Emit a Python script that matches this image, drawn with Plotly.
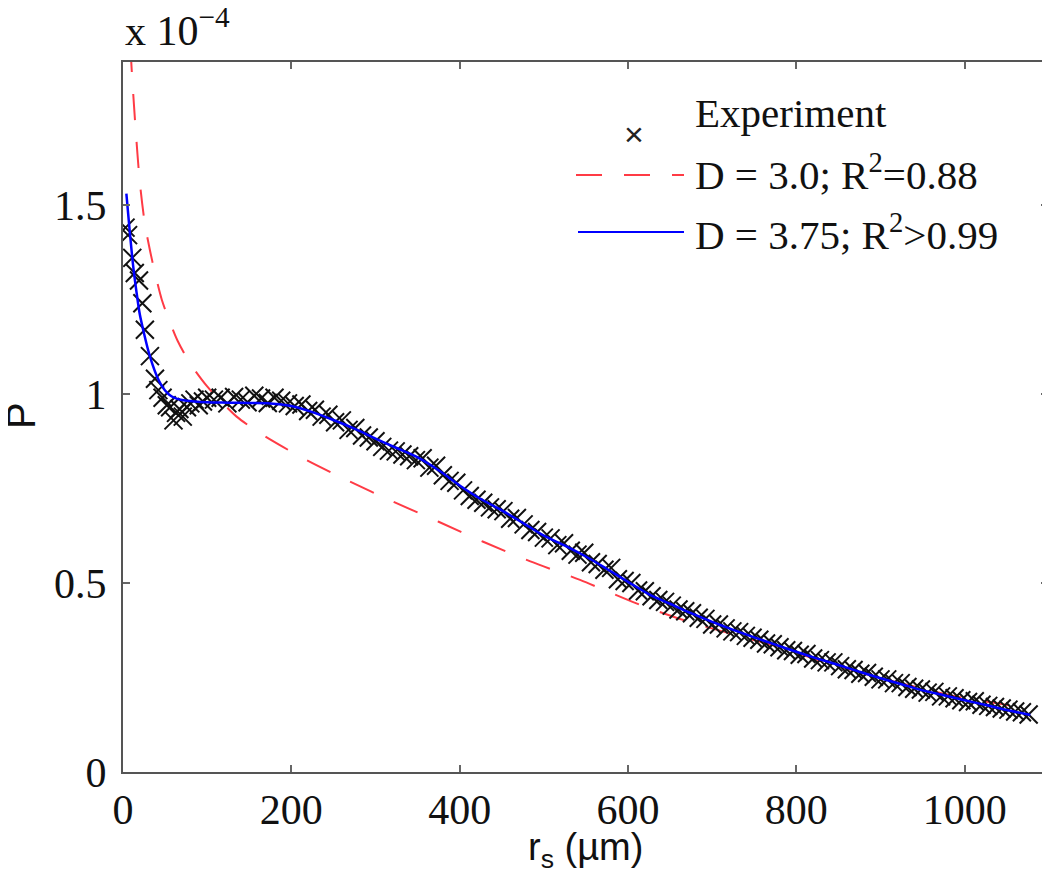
import plotly.graph_objects as go

# ---- data (P in units of 1e-4) ----
exp_x = [3, 6, 11, 14, 19, 23, 26, 32, 38, 42, 47, 52, 56, 60, 63, 67, 71, 76, 80, 85, 90, 95, 100,
         108, 116, 124, 132, 140, 148, 156, 164, 172, 180, 188, 196, 204, 212, 220, 228, 236, 244,
         252, 260, 268, 276, 284, 292, 300, 308, 316, 324, 332, 340, 348, 356, 364, 372, 380, 388,
         396, 404, 412, 420, 428, 436, 444, 452, 460, 468, 476, 484, 492, 500, 508, 516, 524, 532,
         540, 548, 556, 564, 572, 580, 588, 596, 604, 612, 620, 628, 636, 644, 652, 660, 668, 676,
         684, 692, 700, 708, 716, 724, 732, 740, 748, 756, 764, 772, 780, 788, 796, 804, 812, 820,
         828, 836, 844, 852, 860, 868, 876, 884, 892, 900, 908, 916, 924, 932, 940, 948, 956, 964,
         972, 980, 988, 996, 1004, 1012, 1020, 1028, 1036, 1044, 1052, 1060, 1068, 1076]
exp_y = [1.44, 1.42, 1.36, 1.32, 1.30, 1.24, 1.17, 1.10, 1.04, 1.01, 0.99, 0.97, 0.965, 0.93, 0.95,
         0.96, 0.94, 0.965, 0.975, 0.985, 0.97, 0.98, 0.99,
         0.985, 0.99, 0.975, 0.992, 0.985, 0.978, 0.995, 0.988, 0.976, 0.99, 0.982, 0.975, 0.968,
         0.972, 0.955, 0.958, 0.94, 0.945, 0.925, 0.93, 0.905, 0.91, 0.89, 0.885, 0.875, 0.86,
         0.85, 0.848, 0.84, 0.835, 0.825, 0.83, 0.805, 0.81, 0.785, 0.77, 0.765, 0.745, 0.73,
         0.72, 0.712, 0.70, 0.695, 0.69, 0.67, 0.672, 0.655, 0.64, 0.635, 0.62, 0.618, 0.60,
         0.605, 0.585, 0.575, 0.58, 0.555, 0.55, 0.535, 0.54, 0.51, 0.505, 0.50, 0.48, 0.478,
         0.465, 0.455, 0.45, 0.44, 0.43, 0.425, 0.42, 0.408, 0.405, 0.39, 0.39, 0.38, 0.372,
         0.37, 0.36, 0.355, 0.35, 0.34, 0.338, 0.33, 0.322, 0.32, 0.31, 0.312, 0.30, 0.296,
         0.29, 0.29, 0.28, 0.272, 0.27, 0.26, 0.262, 0.252, 0.245, 0.245, 0.235, 0.235, 0.225,
         0.22, 0.218, 0.21, 0.212, 0.20, 0.20, 0.195, 0.19, 0.185, 0.187, 0.178, 0.175, 0.172,
         0.168, 0.165, 0.16, 0.158, 0.152]

fit375_x = [4, 8, 12, 16, 20, 25, 30, 35, 40, 45, 50, 55, 60, 70, 85, 100, 125, 150, 175, 200, 225, 250,
            275, 300, 325, 350, 375, 400, 425, 450, 475, 500, 525, 550, 575, 600, 625, 650, 675,
            700, 725, 750, 775, 800, 825, 850, 875, 900, 925, 950, 975, 1000, 1025, 1050, 1078]
fit375_y = [1.53, 1.43, 1.34, 1.27, 1.21, 1.16, 1.115, 1.078, 1.048, 1.025, 1.009, 0.998, 0.991, 0.984, 0.98, 0.978,
            0.977, 0.976, 0.975, 0.968, 0.952, 0.931, 0.908, 0.882, 0.857, 0.832, 0.798, 0.758,
            0.722, 0.692, 0.659, 0.625, 0.599, 0.57, 0.537, 0.503, 0.47, 0.445, 0.42, 0.397,
            0.376, 0.356, 0.337, 0.318, 0.30, 0.283, 0.265, 0.248, 0.232, 0.216, 0.203, 0.19,
            0.177, 0.164, 0.151]

fit30_x = [9, 10, 15, 20, 26, 32, 38, 46, 54, 65, 80, 100, 115, 135, 163, 190, 218, 266, 321, 375,
           428, 484, 543, 610, 666, 725, 780, 830, 888, 940, 990, 1040, 1078]
fit30_y = [1.92, 1.87, 1.70, 1.56, 1.45, 1.38, 1.32, 1.25, 1.20, 1.14, 1.08, 1.02, 0.984, 0.94,
           0.896, 0.86, 0.825, 0.772, 0.715, 0.662, 0.609, 0.557, 0.508, 0.446, 0.402, 0.364,
           0.33, 0.293, 0.256, 0.226, 0.20, 0.181, 0.168]

legend_labels = ["Experiment", "D = 3.0; R<sup>2</sup>=0.88", "D = 3.75; R<sup>2</sup>>0.99"]

x_ticks = [0, 200, 400, 600, 800, 1000]
y_ticks = [0, 0.5, 1, 1.5]
y_ticktext = ["0", "0.5", "1", "1.5"]

SERIF = "Liberation Serif"
SANS = "Liberation Sans"
RED = "#ff3b45"
BLUE = "#0000ff"

# page body has an 8px default margin; the figure is sized so that it fits the window
OFF = 8
W, H = 1050 - OFF, 882 - OFF
PL, PT, PR, PB = 123 - OFF, 62 - OFF, 1048 - OFF, 772 - OFF   # plot-area box in figure pixels

fig = go.Figure()
fig.add_trace(go.Scatter(x=fit30_x, y=fit30_y, mode="lines",
                         line=dict(color=RED, width=2, dash="26px,22px", shape="spline", smoothing=0.8), showlegend=False))
fig.add_trace(go.Scatter(x=exp_x, y=exp_y, mode="markers",
                         marker=dict(symbol="x-thin", size=18, line=dict(color="#111111", width=2)), showlegend=False))
fig.add_trace(go.Scatter(x=fit375_x, y=fit375_y, mode="lines",
                         line=dict(color=BLUE, width=2.5, shape="spline", smoothing=0.8), showlegend=False))

axis_common = dict(showline=True, linecolor="#555555", linewidth=2, mirror="ticks", ticks="inside",
                   ticklen=7, tickwidth=2, tickcolor="#666666", showgrid=False, zeroline=False,
                   automargin=False, tickfont=dict(family=SERIF, size=42, color="#111111"))

fig.update_layout(
    width=W, height=H,
    margin=dict(l=PL, r=W - PR, t=PT, b=H - PB),
    paper_bgcolor="white", plot_bgcolor="white",
    xaxis=dict(range=[0, 1099], tickvals=x_ticks, **axis_common),
    yaxis=dict(range=[0, 1.878], tickvals=y_ticks, ticktext=y_ticktext, ticklabelstandoff=6, **axis_common),
    showlegend=False,
)

def px2x(px):
    return (px - OFF - PL) / (PR - PL)

def py2y(py):
    return (PB - (py - OFF)) / (PB - PT)

# axis titles
fig.add_annotation(xref="paper", yref="paper", x=0.5, y=py2y(850), xanchor="center", yanchor="middle",
                   text="r<sub>s</sub> (µm)", showarrow=False, font=dict(family=SANS, size=38, color="#111111"))
fig.add_annotation(xref="paper", yref="paper", x=px2x(21), y=py2y(416), xanchor="center", yanchor="middle",
                   text="P", textangle=-90, showarrow=False, font=dict(family=SANS, size=40, color="#111111"))

# "x 10^-4" exponent label
fig.add_annotation(xref="paper", yref="paper", x=0, y=1, xanchor="left", yanchor="bottom", yshift=6,
                   text="x 10<sup>−4</sup>", showarrow=False, font=dict(family=SERIF, size=42, color="#111111"))

# manual legend
rows = [113, 172, 232]
fig.add_annotation(xref="paper", yref="paper", x=px2x(634), y=py2y(rows[0]), text="×", showarrow=False,
                   font=dict(family=SANS, size=34, color="#222222"))
fig.add_shape(type="line", xref="paper", yref="paper", x0=px2x(576), x1=px2x(684), y0=py2y(rows[1] + 3), y1=py2y(rows[1] + 3),
              line=dict(color=RED, width=2, dash="26px,22px"))
fig.add_shape(type="line", xref="paper", yref="paper", x0=px2x(578), x1=px2x(684), y0=py2y(rows[2]), y1=py2y(rows[2]),
              line=dict(color=BLUE, width=2))
for lbl, r in zip(legend_labels, rows):
    fig.add_annotation(xref="paper", yref="paper", x=px2x(693), y=py2y(r), xanchor="left", yanchor="middle",
                       text=lbl, showarrow=False, font=dict(family=SERIF, size=41, color="#111111"))

fig.write_html("out.html")
